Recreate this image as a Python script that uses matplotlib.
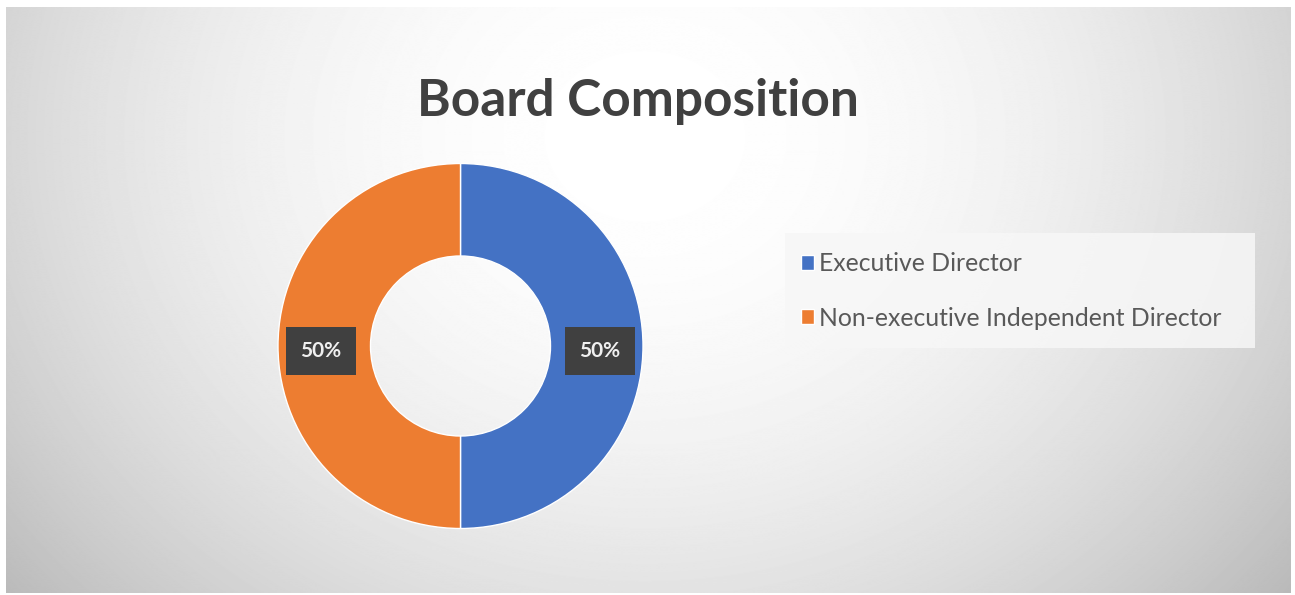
import numpy as np
import matplotlib
matplotlib.use("Agg")
import matplotlib.pyplot as plt
from matplotlib.patches import Rectangle

categories = ["Executive Director", "Non-executive Independent Director"]
values = [50, 50]
colors = ["#4472C4", "#ED7D31"]
title = "Board Composition"

W, H = 1295, 595
fig = plt.figure(figsize=(W / 100, H / 100), dpi=100)
fig.patch.set_facecolor("white")

# background radial gradient
bg = fig.add_axes([6 / W, 2 / H, (W - 10) / W, (H - 9) / H])
yy, xx = np.mgrid[0:590, 0:1288]
d2 = ((xx - 640) / 700.0) ** 2 + ((yy - 130) / 600.0) ** 2
shade = 1 - 0.19 * d2
shade = np.clip(shade, 0, 1)
bg.imshow(shade, cmap="gray", vmin=0, vmax=1, aspect="auto", interpolation="bilinear")
bg.axis("off")

ax = fig.add_axes([0, 0, 1, 1])
cx, cy, r = 460.5, H - 346, 182.5
wedges, texts, autotexts = ax.pie(
    values, colors=colors, startangle=90, counterclock=False,
    center=(cx, cy), radius=r, autopct="%d%%", pctdistance=0.765,
    wedgeprops=dict(width=r - 90, edgecolor="white", linewidth=1),
    textprops=dict(color="#f0f0f0", fontsize=15, fontfamily="Lato", fontweight="bold"),
    frame=True,
)
ax.set_xlim(0, W)
ax.set_ylim(0, H)
ax.set_aspect("equal")
ax.axis("off")
for t in autotexts:
    x, y = t.get_position()
    t.set_position((x, y - 5))
    t.set_bbox(dict(boxstyle="square,pad=0.68", facecolor="#404040", edgecolor="none"))

fig.text(638 / W, 1 - 101 / H, title, ha="center", va="center", fontsize=37,
         fontweight="bold", fontfamily="Lato", color="#404040")

# legend backdrop
fig.patches.append(Rectangle((785 / W, 1 - 348 / H), 470 / W, 115 / H,
                             transform=fig.transFigure, facecolor="#f7f7f7",
                             edgecolor="none", alpha=0.85, zorder=1))
leg = fig.legend(wedges, categories, loc="upper left",
                 bbox_to_anchor=(791 / W, 1 - 242 / H), frameon=False,
                 prop=dict(family="Lato", size=17.8), labelcolor="#595959",
                 handlelength=0.55, handleheight=0.55, handletextpad=0.2,
                 labelspacing=1.28, borderaxespad=0)
leg.set_zorder(5)

fig.savefig("out.png", dpi=100, facecolor="white")
